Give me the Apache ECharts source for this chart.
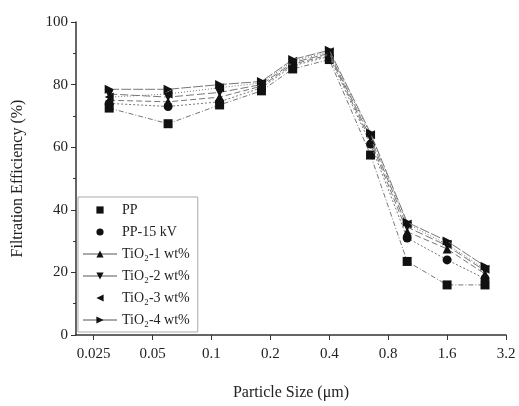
<!DOCTYPE html>
<html>
<head>
<meta charset="utf-8">
<script src="https://cdn.jsdelivr.net/npm/echarts@6/dist/echarts.min.js"></script>
<style>html,body{margin:0;padding:0;background:#fff}#c{width:519px;height:406px}</style>
</head>
<body>
<div id="c"></div>
<script>
// Particle sizes (µm)
var sizes = [0.03, 0.06, 0.11, 0.18, 0.26, 0.4, 0.65, 1.0, 1.6, 2.5];
// Filtration efficiency (%)
var pp      = [72.5, 67.5, 73.5, 78, 85, 88, 57.5, 23.5, 16, 16];
var pp15    = [74, 73, 74.5, 79, 86, 89, 61, 31, 24, 18];
var tio2_1  = [75, 74.5, 76, 79.5, 86.5, 89.5, 62, 33, 27.5, 19.5];
var tio2_2  = [77, 76, 77.5, 80, 87, 90, 63, 34.5, 28.5, 20.5];
var tio2_3  = [76, 77, 79, 80.5, 87.5, 90.5, 64, 35.5, 29, 21];
var tio2_4  = [78.5, 78.5, 80, 81, 88, 91, 64.5, 36, 30, 22];
var seriesNames = ['PP', 'PP-15 kV', 'TiO\u2082-1 wt%', 'TiO\u2082-2 wt%', 'TiO\u2082-3 wt%', 'TiO\u2082-4 wt%'];
var xTickLabels = ['0.025', '0.05', '0.1', '0.2', '0.4', '0.8', '1.6', '3.2'];
var yTickLabels = ['0', '20', '40', '60', '80', '100'];

var xTickValues = xTickLabels.map(Number);
var allData = [pp, pp15, tio2_1, tio2_2, tio2_3, tio2_4];
var symbols = ['rect', 'circle', 'triangle', 'path://M0,0 L10,0 L5,10 Z', 'path://M10,0 L10,10 L0,5 Z', 'path://M0,0 L0,10 L10,5 Z'];
var dashes = [[5, 2, 1, 2], [2, 2], [6, 3], [8, 3], [1, 2], [10, 2]];
var legendLine = [false, false, true, true, false, true];
var font = 'Liberation Serif';

var series = allData.map(function (vals, i) {
  return {
    name: seriesNames[i],
    type: 'line',
    data: sizes.map(function (s, j) { return [s, vals[j]]; }),
    symbol: symbols[i],
    symbolSize: 9,
    showSymbol: true,
    itemStyle: { color: '#111' },
    lineStyle: { color: '#777', width: 1, type: dashes[i] },
    z: 2 + i
  };
});

var chart = echarts.init(document.getElementById('c'), null, { renderer: 'canvas' });
chart.setOption({
  animation: false,
  backgroundColor: '#fff',
  grid: { left: 76, right: 13, top: 22, bottom: 68, containLabel: false },
  legend: {
    orient: 'vertical',
    left: 78, top: 197,
    itemWidth: 34, itemHeight: 9, itemGap: 8,
    padding: [6, 8, 5, 4],
    borderColor: '#aaa', borderWidth: 1,
    textStyle: { fontFamily: font, fontSize: 14, color: '#222' },
    data: seriesNames.map(function (n, i) {
      return { name: n, lineStyle: legendLine[i] ? { color: '#555', type: 'solid', width: 1 } : { opacity: 0 } };
    })
  },
  xAxis: {
    type: 'log', logBase: 2,
    min: 0.0203, max: 3.2,
    name: 'Particle Size (\u03bcm)', nameLocation: 'middle', nameGap: 50,
    nameTextStyle: { fontFamily: font, fontSize: 16, color: '#222' },
    axisLine: { lineStyle: { color: '#333', width: 1.5 } },
    axisTick: { show: true, customValues: xTickValues, length: 5, lineStyle: { color: '#333' } },
    axisLabel: {
      customValues: xTickValues, fontFamily: font, fontSize: 15, color: '#222', margin: 12,
      formatter: function (v) {
        var best = 0, bd = Infinity;
        xTickValues.forEach(function (t, k) { var d = Math.abs(Math.log(v / t)); if (d < bd) { bd = d; best = k; } });
        return xTickLabels[best];
      }
    },
    splitLine: { show: false }
  },
  yAxis: {
    type: 'value', min: 0, max: 100, interval: 20,
    name: 'Filtration Efficiency (%)', nameLocation: 'middle', nameGap: 50,
    nameTextStyle: { fontFamily: font, fontSize: 16, color: '#222' },
    axisLine: { show: true, lineStyle: { color: '#333', width: 1.5 } },
    axisTick: { show: true, length: 5, lineStyle: { color: '#333' } },
    minorTick: { show: true, splitNumber: 2, length: 3, lineStyle: { color: '#333' } },
    axisLabel: { fontFamily: font, fontSize: 15, color: '#222', margin: 8,
      formatter: function (v) { return yTickLabels[Math.round(v / 20)]; } },
    splitLine: { show: false }
  },
  series: series
});
</script>
</body>
</html>
